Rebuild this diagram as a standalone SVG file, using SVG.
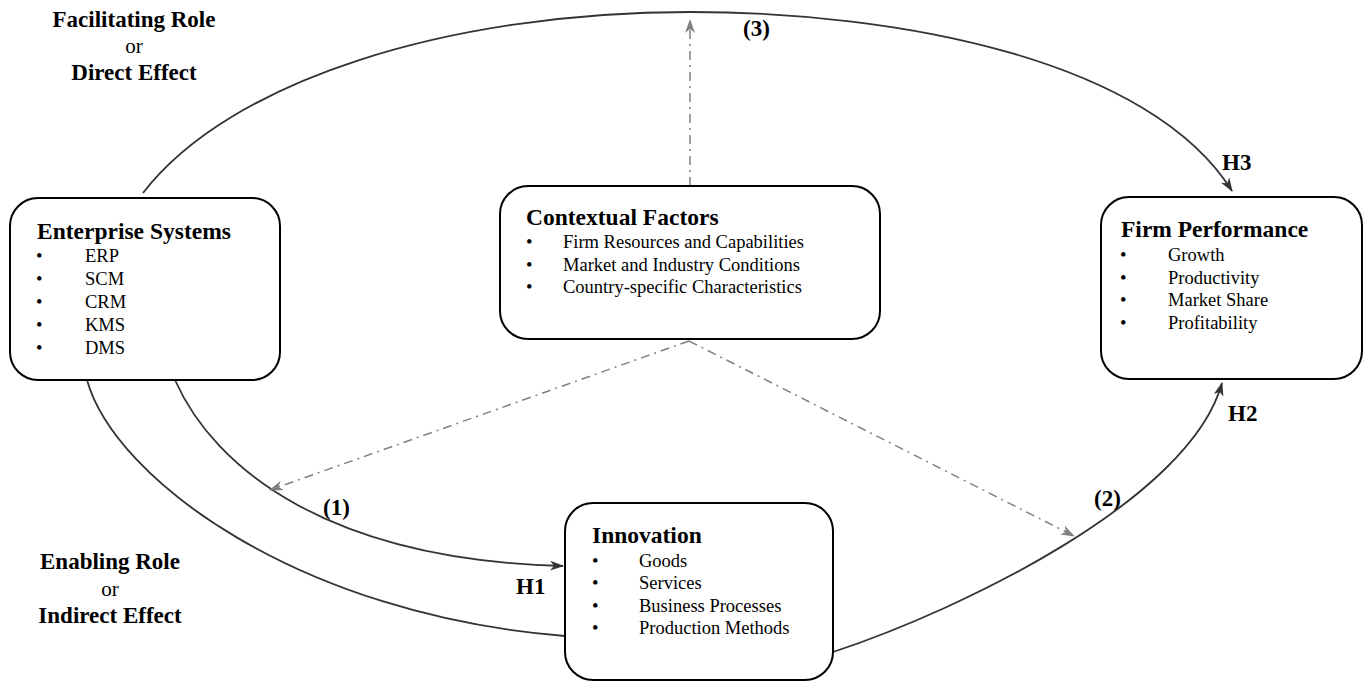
<svg xmlns="http://www.w3.org/2000/svg" width="1364" height="682" viewBox="0 0 1364 682">
<style>
  .box{fill:#fff;stroke:#000;stroke-width:2}
  .title{font-family:"Liberation Serif","Times New Roman",serif;font-weight:bold;font-size:23.5px;fill:#000}
  .item{font-family:"Liberation Serif","Times New Roman",serif;font-size:18.5px;fill:#000}
  .lbl{font-family:"Liberation Serif","Times New Roman",serif;font-weight:bold;font-size:23px;fill:#000}
  .or{font-family:"Liberation Serif","Times New Roman",serif;font-size:21px;fill:#000}
  .conn{fill:none;stroke:#333;stroke-width:1.8}
  .dash{fill:none;stroke:#808080;stroke-width:1.5;stroke-dasharray:9 5 2 5}
</style>
<defs>
  <marker id="arr" viewBox="0 0 14 10" refX="13" refY="5" markerWidth="14" markerHeight="10" markerUnits="userSpaceOnUse" orient="auto">
    <path d="M0,0 L14,5 L0,10 L4,5 z" fill="#333"/>
  </marker>
  <marker id="arrg" viewBox="0 0 14 10" refX="13" refY="5" markerWidth="14" markerHeight="10" markerUnits="userSpaceOnUse" orient="auto">
    <path d="M0,0 L14,5 L0,10 L4,5 z" fill="#808080"/>
  </marker>
</defs>

<g id="labels">
  <text class="lbl" x="134" y="27" text-anchor="middle">Facilitating Role</text>
  <text class="or" x="134" y="53" text-anchor="middle">or</text>
  <text class="lbl" x="134" y="80" text-anchor="middle">Direct Effect</text>
  <text class="lbl" x="110" y="569" text-anchor="middle">Enabling Role</text>
  <text class="or" x="110" y="596" text-anchor="middle">or</text>
  <text class="lbl" x="110" y="623" text-anchor="middle">Indirect Effect</text>
  <text class="lbl" x="743" y="36">(3)</text>
  <text class="lbl" x="1222" y="170">H3</text>
  <text class="lbl" x="323" y="515">(1)</text>
  <text class="lbl" x="516" y="594">H1</text>
  <text class="lbl" x="1094" y="506">(2)</text>
  <text class="lbl" x="1228" y="421">H2</text>
</g>

<g id="connectors">
  <path class="conn" d="M143,193 C230,80 450,12 690,12 C900,12 1150,60 1232,191" marker-end="url(#arr)"/>
  <path class="conn" d="M175,380 C215,470 330,560 563,566" marker-end="url(#arr)"/>
  <path class="conn" d="M87,380 C115,480 300,615 565,636"/>
  <path class="conn" d="M833,652 C960,610 1190,500 1222,383" marker-end="url(#arr)"/>
  <path class="dash" d="M690,186 L690,20" marker-end="url(#arrg)"/>
  <path class="dash" d="M689,341 L270,490" marker-end="url(#arrg)"/>
  <path class="dash" d="M689,341 L1074,536" marker-end="url(#arrg)"/>
</g>

<g id="enterprise-systems">
  <rect class="box" x="10" y="198" width="270" height="182" rx="28"/>
  <text class="title" x="37" y="239">Enterprise Systems</text>
  <g class="item">
    <text x="36" y="262">•</text><text x="85" y="262">ERP</text>
    <text x="36" y="285">•</text><text x="85" y="285">SCM</text>
    <text x="36" y="308">•</text><text x="85" y="308">CRM</text>
    <text x="36" y="331">•</text><text x="85" y="331">KMS</text>
    <text x="36" y="354">•</text><text x="85" y="354">DMS</text>
  </g>
</g>

<g id="contextual-factors">
  <rect class="box" x="500" y="186" width="380" height="153" rx="28"/>
  <text class="title" x="526" y="225">Contextual Factors</text>
  <g class="item">
    <text x="526" y="248">•</text><text x="563" y="248">Firm Resources and Capabilities</text>
    <text x="526" y="271">•</text><text x="563" y="271">Market and Industry Conditions</text>
    <text x="526" y="293">•</text><text x="563" y="293">Country-specific Characteristics</text>
  </g>
</g>

<g id="firm-performance">
  <rect class="box" x="1101" y="197" width="261" height="182" rx="28"/>
  <text class="title" x="1121" y="237">Firm Performance</text>
  <g class="item">
    <text x="1120" y="261">•</text><text x="1168" y="261">Growth</text>
    <text x="1120" y="284">•</text><text x="1168" y="284">Productivity</text>
    <text x="1120" y="306">•</text><text x="1168" y="306">Market Share</text>
    <text x="1120" y="329">•</text><text x="1168" y="329">Profitability</text>
  </g>
</g>

<g id="innovation">
  <rect class="box" x="565" y="503" width="268" height="177" rx="28"/>
  <text class="title" x="592" y="543">Innovation</text>
  <g class="item">
    <text x="592" y="567">•</text><text x="639" y="567">Goods</text>
    <text x="592" y="589">•</text><text x="639" y="589">Services</text>
    <text x="592" y="612">•</text><text x="639" y="612">Business Processes</text>
    <text x="592" y="634">•</text><text x="639" y="634">Production Methods</text>
  </g>
</g>
</svg>
